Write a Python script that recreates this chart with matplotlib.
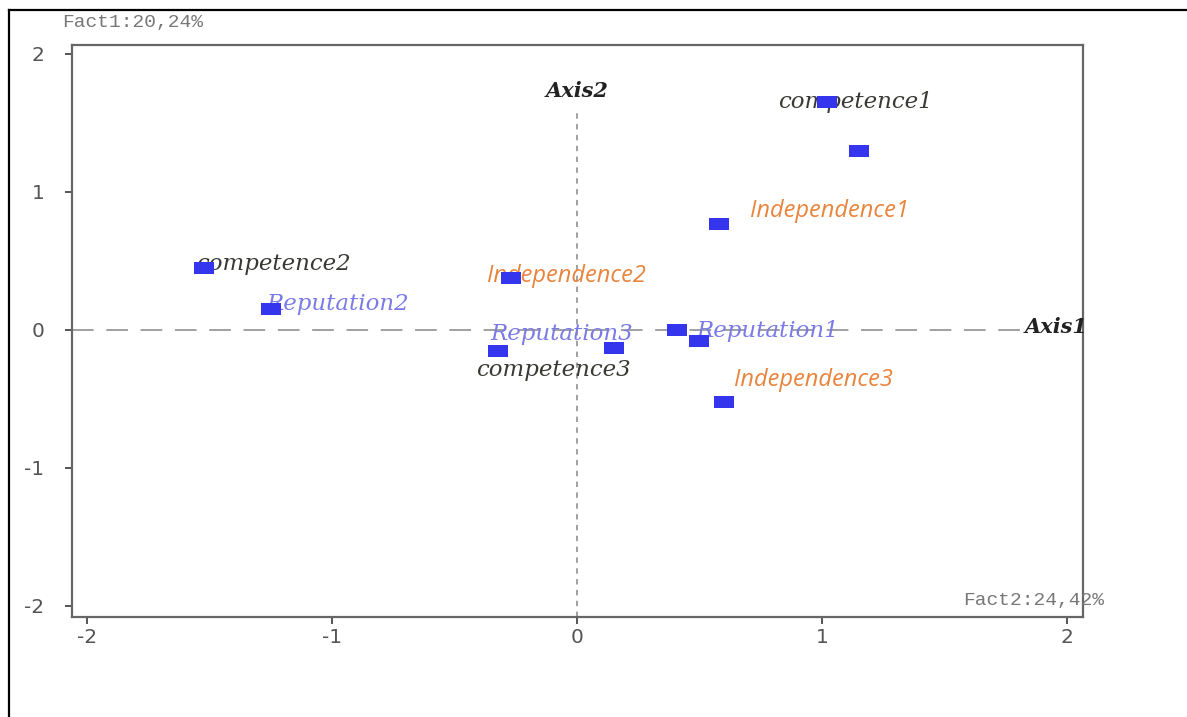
import matplotlib
matplotlib.use("Agg")
import matplotlib.pyplot as plt
from matplotlib.lines import Line2D
import numpy as np

# ---- data ----
labels = ["competence1", "", "Independence1", "competence2", "Reputation2",
          "Independence2", "competence3", "Reputation3", "", "Reputation1", "Independence3"]
groups = ["competence", "none", "Independence", "competence", "Reputation",
          "Independence", "competence", "Reputation", "none", "Reputation", "Independence"]
x_vals = [1.02, 1.15, 0.58, -1.52, -1.25, -0.27, -0.32, 0.15, 0.41, 0.50, 0.60]
y_vals = [1.65, 1.30, 0.77, 0.45, 0.15, 0.38, -0.15, -0.13, 0.00, -0.08, -0.52]
xticks = [-2, -1, 0, 1, 2]
yticks = [-2, -1, 0, 1, 2]
tick_labels = ["-2", "-1", "0", "1", "2"]
fact1_label = "Fact1:20,24%"
fact2_label = "Fact2:24,42%"

# ---- styling / layout ----
W, H = 1187, 717
fig = plt.figure(figsize=(W / 100, H / 100), dpi=100)
ax = fig.add_axes([72 / W, 1 - 617 / H, (1083 - 72) / W, (617 - 45) / H])
ax.set_xlim(-2.06, 2.065)
ax.set_ylim(-2.08, 2.065)

for s in ax.spines.values():
    s.set_color("#666666")
    s.set_linewidth(1.6)

ax.set_xticks(xticks)
ax.set_xticklabels(tick_labels)
ax.set_yticks(yticks)
ax.set_yticklabels(tick_labels)
ax.tick_params(axis="both", colors="#555555", labelcolor="#555555",
               labelsize=14.5, length=5, width=1.4)
ax.tick_params(axis="x", pad=3)
ax.tick_params(axis="y", pad=15)
for t in ax.get_xticklabels() + ax.get_yticklabels():
    t.set_fontfamily("DejaVu Sans")

# reference dashed lines
ax.axvline(0, ymin=0, ymax=(617 - 108) / (617 - 45), color="#999999",
           linestyle=(0, (3, 3)), linewidth=1.3, zorder=1)
ax.axhline(0, xmin=0, xmax=(1030 - 72) / (1083 - 72), color="#999999",
           linestyle=(0, (12, 7)), linewidth=1.3, zorder=1)

ax.text(0, 1.73, "Axis2", ha="center", va="center", fontsize=15,
        fontfamily="DejaVu Serif", fontstyle="italic", fontweight="bold", color="#222222")
ax.text(2.085, 0.02, "Axis1", ha="right", va="center", fontsize=15,
        fontfamily="DejaVu Serif", fontstyle="italic", fontweight="bold", color="#222222",
        clip_on=False)

# markers: horizontal rectangles
rect = [(-1, -0.58), (1, -0.58), (1, 0.58), (-1, 0.58), (-1, -0.58)]
ax.scatter(x_vals, y_vals, marker=rect, s=215, color="#3535ee", zorder=3, linewidths=0)

styles = {
    "competence": dict(color="#3a3a34", fontfamily="DejaVu Serif", fontstyle="italic", fontsize=16.5),
    "Reputation": dict(color="#7b7be8", fontfamily="DejaVu Serif", fontstyle="italic", fontsize=16.5),
    "Independence": dict(color="#e8843c", fontfamily="Open Sans", fontstyle="italic", fontsize=17),
}
offsets = {
    "competence1": (-35, 0), "Independence1": (22, 9), "competence2": (-6, 3),
    "Reputation2": (-3, 4), "Independence2": (-17, 1), "competence3": (-16, -14),
    "Reputation3": (-6, 12), "Reputation1": (-2, 7), "Independence3": (7, 16),
}
for lab, g, xv, yv in zip(labels, groups, x_vals, y_vals):
    if not lab:
        continue
    if lab == "Reputation3":
        xv, yv = x_vals[labels.index("competence3")], y_vals[labels.index("competence3")]
    ax.annotate(lab, (xv, yv), xytext=offsets[lab], textcoords="offset points",
                ha="left", va="center", zorder=2, **styles[g])

# factor labels
fig.text(62 / W, 1 - 22 / H, fact1_label, ha="left", va="center", fontsize=14,
         fontfamily="Liberation Mono", color="#777777")
fig.text(963 / W, 1 - 601 / H, fact2_label, ha="left", va="center", fontsize=14,
         fontfamily="Liberation Mono", color="#777777")

# outer frame (left & top edges)
fig.add_artist(Line2D([9 / W, 9 / W], [0, 1 - 10 / H], transform=fig.transFigure,
                      color="black", linewidth=1.6))
fig.add_artist(Line2D([9 / W, 1], [1 - 10 / H, 1 - 10 / H], transform=fig.transFigure,
                      color="black", linewidth=1.6))

fig.savefig("out.png", dpi=100)
